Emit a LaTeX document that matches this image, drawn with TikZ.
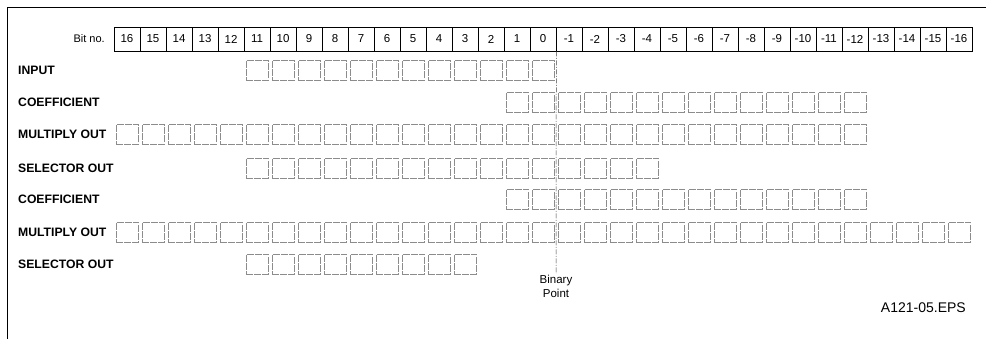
\documentclass[tikz,border=0pt]{standalone}
\usepackage{fontspec}
\setmainfont{Liberation Sans}
\usetikzlibrary{positioning}

\tikzset{
  bitcell/.style={draw=black, line width=0.6pt, minimum width=26pt, minimum height=24pt,
                  inner sep=0pt, font=\fontsize{11.5}{13}\selectfont},
  regbox/.style={draw=black!45, line width=0.6pt, dash pattern=on 7pt off 1.2pt,
                 minimum width=22.5pt, minimum height=20pt, inner sep=0pt},
  rowlabel/.style={anchor=west, inner sep=0pt, font=\bfseries\fontsize{12.2}{14}\selectfont},
}

\begin{document}
\begin{tikzpicture}[x=1pt, y=-1pt]
  \useasboundingbox (0,0) rectangle (986,339);

  % Frame
  \draw[line width=0.8pt] (7,339) -- (7,7) -- (986,7);

  \def\cellW{26}
  \def\cellX{114}

  % Bit number row
  \node[anchor=east, inner sep=0pt, font=\fontsize{11}{13}\selectfont] (bitno) at (105,39) {Bit no.};
  \foreach \b [count=\i from 0] in {16,15,...,-16}
    \node[bitcell] (c\i) at ({\cellX+\cellW*\i+\cellW/2},39) {\b};

  % Helper macro: \regrow{name}{label}{y}{first cell}{last cell}
  \def\regrow#1#2#3#4#5{%
    \node[rowlabel] (#1) at (18,#3) {#2};
    \foreach \i in {#4,...,#5}
      \node[regbox] (#1\i) at ({\cellX+\cellW*\i+13.25},#3) {};
  }

  \regrow{inp}{INPUT}{70.5}{5}{16}
  \regrow{coefa}{COEFFICIENT}{102}{15}{28}
  \regrow{mula}{MULTIPLY OUT}{134.5}{0}{28}
  \regrow{sela}{SELECTOR OUT}{168}{5}{20}
  \regrow{coefb}{COEFFICIENT}{199}{15}{28}
  \regrow{mulb}{MULTIPLY OUT}{232}{0}{32}
  \regrow{selb}{SELECTOR OUT}{264}{5}{13}

  % Binary point
  \node[anchor=north, align=center, inner sep=1pt, font=\fontsize{11.5}{14}\selectfont]
    (bpt) at (556,274) {Binary\\Point};
  \draw[black!75, line width=0.5pt, dash pattern=on 5pt off 1.5pt on 1pt off 1.5pt]
    (c16.south east) -- (bpt.north);

  \node[anchor=east, inner sep=0pt, font=\fontsize{14}{16}\selectfont] (fig) at (966,308) {A121-05.EPS};
\end{tikzpicture}
\end{document}
